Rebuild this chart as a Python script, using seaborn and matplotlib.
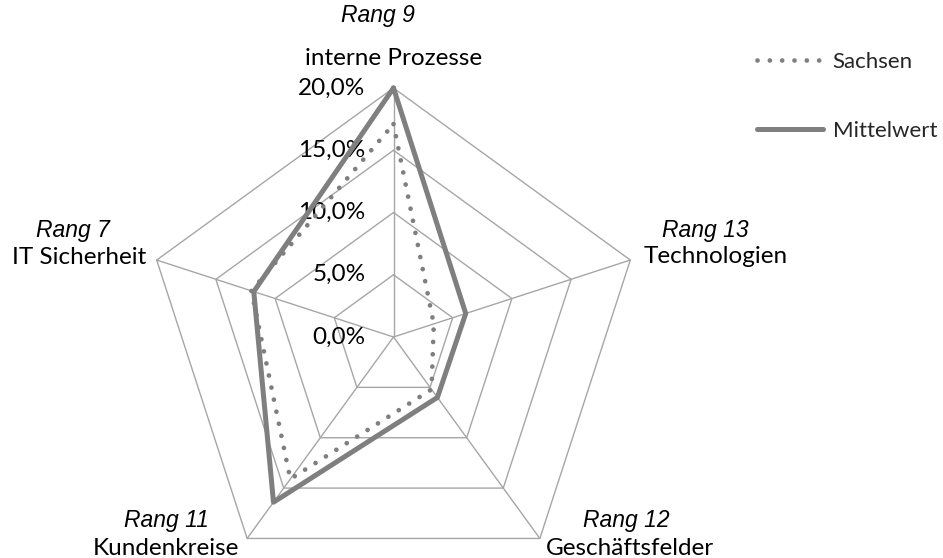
import numpy as np
import pandas as pd
import matplotlib
matplotlib.use("Agg")
import matplotlib.pyplot as plt
import seaborn as sns
from matplotlib.lines import Line2D

# Werte aus dem Netzdiagramm (Anteile in %)
kategorien = ["interne Prozesse", "Technologien", "Geschäftsfelder", "Kundenkreise", "IT Sicherheit"]
raenge = ["Rang 9", "Rang 13", "Rang 12", "Rang 11", "Rang 7"]
sachsen = [17.1, 3.4, 5.2, 14.1, 12.0]
mittelwert = [20.0, 6.1, 6.0, 16.4, 11.8]
ticks = [0, 5, 10, 15, 20]
tick_labels = ["0,0%", "5,0%", "10,0%", "15,0%", "20,0%"]

sns.set_style("white")
plt.rcParams['font.family'] = ['Lato', 'DejaVu Sans']

fig = plt.figure(figsize=(9.43, 5.58), dpi=100)
ax = fig.add_axes([0, 0, 1, 1])
scale = 249 / 20          # pixel pro Prozentpunkt
cx, cy = 393.5, 337       # mitte in pixel
ax.set_xlim(-cx / scale, (943 - cx) / scale)
ax.set_ylim(-(558 - cy) / scale, cy / scale)
ax.axis('off')

winkel = np.deg2rad(90 - 72 * np.arange(len(kategorien)))

def to_xy(werte):
    w = np.append(werte, werte[0])
    a = np.append(winkel, winkel[0])
    return w * np.cos(a), w * np.sin(a)

# Gitternetz (Fuenfecke + Speichen)
grid_col = '#a6a6a6'
rmax = ticks[-1]
for t in ticks[1:]:
    gx, gy = to_xy([t] * len(kategorien))
    ax.plot(gx, gy, color=grid_col, linewidth=1.0, zorder=1)
for a in winkel:
    ax.plot([0, rmax * np.cos(a)], [0, rmax * np.sin(a)], color=grid_col, linewidth=1.0, zorder=1)

# Achsenbeschriftung (Prozent) links neben der senkrechten Speiche
for t, lab in zip(ticks, tick_labels):
    ax.annotate(lab, xy=(0, t), xytext=(-28, 0), textcoords='offset pixels',
                ha='right', va='center', fontsize=17.5, color='black')

# Datenreihen
linien_col = '#7f7f7f'
xs, ys = to_xy(sachsen)
df_s = pd.DataFrame({'x': xs, 'y': ys})
xm, ym = to_xy(mittelwert)
df_m = pd.DataFrame({'x': xm, 'y': ym})

dot_style = (0, (0.01, 2.6))
sns.lineplot(data=df_s, x='x', y='y', sort=False, estimator=None, ax=ax,
             color=linien_col, linewidth=3.4, linestyle=dot_style,
             dash_capstyle='round', zorder=3)
sns.lineplot(data=df_m, x='x', y='y', sort=False, estimator=None, ax=ax,
             color=linien_col, linewidth=3.6, zorder=4)
ax.set_xlabel('')
ax.set_ylabel('')

# Kategorien-Beschriftung: Versatz (pixel) relativ zur Ecke
offsets = [((-16, 73), (0, 30)),
           ((75, 30), (85, 4)),
           ((86, 18), (90, -10)),
           ((-81, 18), (-81, -10)),
           ((-84, 30), (-78, 3))]
for a, kat, rang, (o_r, o_k) in zip(winkel, kategorien, raenge, offsets):
    ecke = (rmax * np.cos(a), rmax * np.sin(a))
    ax.annotate(rang, xy=ecke, xytext=o_r, textcoords='offset pixels',
                ha='center', va='center', fontsize=16.5, style='italic',
                family=['Liberation Sans', 'DejaVu Sans'], color='black')
    ax.annotate(kat, xy=ecke, xytext=o_k, textcoords='offset pixels',
                ha='center', va='center', fontsize=17.5, color='black')

# Legende
handles = [Line2D([], [], color=linien_col, linewidth=3.4, linestyle=dot_style, dash_capstyle='round'),
           Line2D([], [], color=linien_col, linewidth=3.6)]
fig.legend(handles, ["Sachsen", "Mittelwert"], loc='upper left',
           bbox_to_anchor=(757 / 943, 1 - 52 / 558), frameon=False,
           handlelength=2.95, handletextpad=0.45, labelspacing=2.2,
           borderpad=0, borderaxespad=0, fontsize=16)

fig.savefig('out.png', dpi=100)
